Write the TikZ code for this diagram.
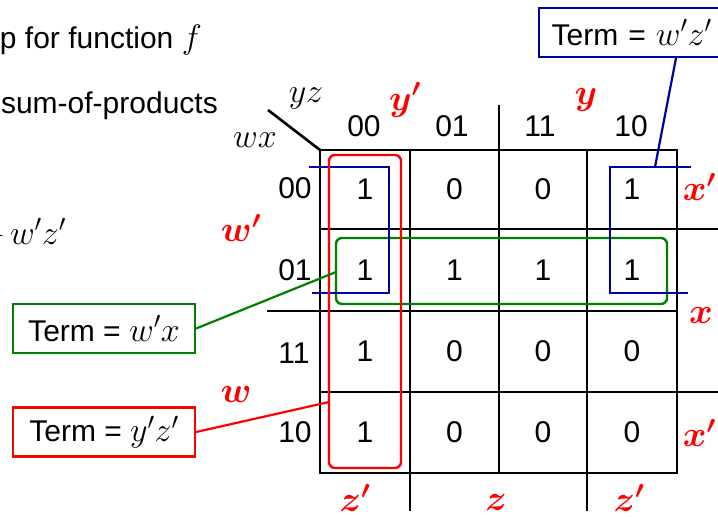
\RequirePackage{fix-cm}
\documentclass[tikz,border=0pt]{standalone}
\usepackage{amsmath}
\usepackage{fontspec}
\setmainfont{Liberation Sans}
\definecolor{kblue}{RGB}{0,0,160}
\definecolor{kgreen}{RGB}{0,128,0}
\definecolor{kred}{RGB}{255,0,0}
\newcommand{\mv}[1]{{\fontsize{34}{40}\selectfont$#1$}}
\newcommand{\mb}[1]{{\fontsize{36}{42}\selectfont$\boldsymbol{#1}$}}
\begin{document}
\begin{tikzpicture}[x=1pt,y=-1pt,
  txt/.style={font=\fontsize{30}{35}\selectfont, inner sep=0pt},
  gridline/.style={line width=2.6pt, line cap=rect},
  lab/.style={txt, text=kred},
  termbox/.style={draw, line width=2.2pt, txt, inner xsep=10pt, minimum height=49pt},
  conn/.style={line width=2.2pt},
  grp/.style={line width=2.4pt, rounded corners=6pt},
  brk/.style={line width=2.4pt, kblue},
]
\useasboundingbox (0,0) rectangle (718,517);
\clip (0,0) rectangle (718,517);

% left text (partly cut off)
\node[txt, anchor=base east] (t1) at (202,48) {p for function \mv{f}};
\node[txt, anchor=base east] (t2) at (218,113) {sum-of-products};
\node[txt, anchor=base east] (t3) at (66,244) {\mv{+\,w'z'}};

% grid
\draw[gridline] (320,150) rectangle (677,473);
\foreach \x in {410,499,587} \draw[gridline] (\x,150) -- (\x,473);
\foreach \y in {229,311,392} \draw[gridline] (320,\y) -- (677,\y);
\draw[gridline] (499,106) -- (499,150);
\draw[gridline] (268,311) -- (320,311);
\draw[gridline] (677,229) -- (718,229);
\draw[gridline] (677,392) -- (718,392);
\draw[gridline] (410,473) -- (410,510);
\draw[gridline] (587,473) -- (587,510);
\draw[line width=2.6pt] (268,110) -- (320,150);

% variable headers
\node[txt] (yz) at (306,98) {\mv{yz}};
\node[txt] (wx) at (255,140) {\mv{wx}};

% column headers
\node[txt] (h0) at (364,126) {00};
\node[txt] (h1) at (452,126) {01};
\node[txt] (h2) at (540,126) {11};
\node[txt] (h3) at (631,126) {10};
% row headers
\node[txt] (r0) at (295,188) {00};
\node[txt] (r1) at (295,270) {01};
\node[txt] (r2) at (294,353) {11};
\node[txt] (r3) at (295,432) {10};

% cells
\node[txt] (c00) at (365,189.5) {1};
\node[txt] (c01) at (454.5,189.5) {0};
\node[txt] (c02) at (543,189.5) {0};
\node[txt] (c03) at (632,189.5) {1};
\node[txt] (c10) at (365,270) {1};
\node[txt] (c11) at (454.5,270) {1};
\node[txt] (c12) at (543,270) {1};
\node[txt] (c13) at (632,270) {1};
\node[txt] (c20) at (365,351.5) {1};
\node[txt] (c21) at (454.5,351.5) {0};
\node[txt] (c22) at (543,351.5) {0};
\node[txt] (c23) at (632,351.5) {0};
\node[txt] (c30) at (365,432.5) {1};
\node[txt] (c31) at (454.5,432.5) {0};
\node[txt] (c32) at (543,432.5) {0};
\node[txt] (c33) at (632,432.5) {0};

% red variable labels
\node[lab] (ly1) at (405,100) {\mb{y'}};
\node[lab] (ly2) at (586,100) {\mb{y}};
\node[lab] (lw1) at (241,228) {\mb{w'}};
\node[lab] (lw2) at (236,394) {\mb{w}};
\node[lab, anchor=east] (lx1) at (716,187) {\mb{x'}};
\node[lab, anchor=east] (lx2) at (713,315) {\mb{x}};
\node[lab, anchor=east] (lx3) at (716,433) {\mb{x'}};
\node[lab] (lz1) at (355,498) {\mb{z'}};
\node[lab] (lz2) at (496,502) {\mb{z}};
\node[lab] (lz3) at (629,498) {\mb{z'}};

% groups
\draw[grp, kgreen] (336,238) rectangle (667,304);
\draw[brk] (309,167) -- (389,167) -- (389,293) -- (312,293);
\draw[brk] (691,167) -- (610,167) -- (610,293) -- (688,293);
\draw[grp, kred] (329,155) rectangle (401,468);

\coordinate (gEnd) at (336,272);
\coordinate (rEnd) at (329,402);
\coordinate (bEnd) at (655,167);

% term boxes
\node[termbox, draw=kgreen, minimum width=182pt] (tg) at (104,328.5) {Term = \mv{w'x}};
\node[termbox, draw=kred, minimum width=182pt] (tr) at (104,432) {Term = \mv{y'z'}};
\node[termbox, draw=kblue, anchor=west, minimum width=230pt, align=left, text width=205pt] (tb) at (538,32.5) {Term = \mv{w'z'}};

% connectors
\draw[conn, kgreen] (tg.east) -- (gEnd);
\draw[conn, kred] (tr.east) -- (rEnd);
\draw[conn, kblue] (tb.south west) ++(138,0) -- (bEnd);
\end{tikzpicture}
\end{document}
